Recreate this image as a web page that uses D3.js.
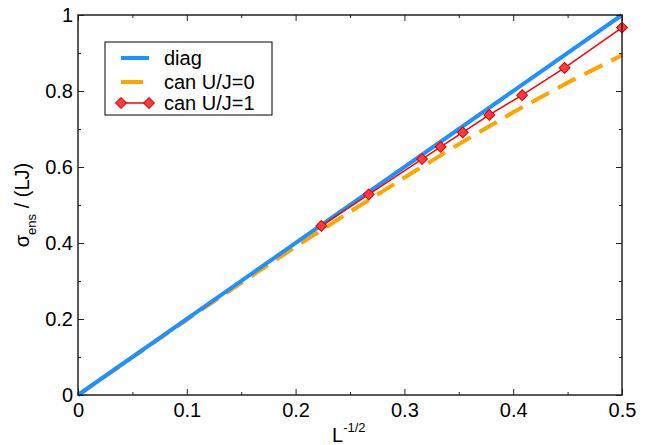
<!DOCTYPE html>
<html>
<head>
<meta charset="utf-8">
<script src="https://cdn.jsdelivr.net/npm/d3@7"></script>
<style>
  body { margin: 0; background: #fff; }
  text { font-family: "Liberation Sans", Arial, sans-serif; }
</style>
</head>
<body>
<svg id="chart" width="650" height="445"></svg>
<script>
/* ======================= DATA ======================= */
const diagX = [0, 0.5];
const diagY = [0, 1.0];

const canU0X = [0, 0.1, 0.15, 0.2, 0.25, 0.3, 0.35, 0.4, 0.45, 0.5];
const canU0Y = [0, 0.198, 0.295, 0.39, 0.482, 0.572, 0.66, 0.744, 0.822, 0.894];

const canU1X = [0.2236, 0.2673, 0.3162, 0.3333, 0.3536, 0.378, 0.4082, 0.4472, 0.5];
const canU1Y = [0.445, 0.528, 0.621, 0.653, 0.691, 0.737, 0.789, 0.861, 0.967];

const xTicks = [0, 0.1, 0.2, 0.3, 0.4, 0.5];
const xMinor = [0.05, 0.15, 0.25, 0.35, 0.45];
const yTicks = [0, 0.2, 0.4, 0.6, 0.8, 1];
const yMinor = [0.1, 0.3, 0.5, 0.7, 0.9];

const legendLabels = ["diag", "can U/J=0", "can U/J=1"];

/* ===================== LAYOUT ======================= */
const margin = { left: 78, right: 28, top: 15, bottom: 50 };
const width = 650, height = 445;
const plotW = width - margin.left - margin.right;
const plotH = height - margin.top - margin.bottom;

const blue = "#1e90ff", orange = "#ffa500", red = "#ff0000";

const svg = d3.select("#chart");
const g = svg.append("g").attr("transform", `translate(${margin.left},${margin.top})`);

const x = d3.scaleLinear().domain([0, 0.5]).range([0, plotW]);
const y = d3.scaleLinear().domain([0, 1]).range([plotH, 0]);

const zip = (xs, ys) => xs.map((v, i) => [v, ys[i]]);
const line = d3.line().x(d => x(d[0])).y(d => y(d[1]));

/* ===================== SERIES ======================= */
g.append("path")
 .datum(zip(canU0X, canU0Y))
 .attr("d", line)
 .attr("fill", "none")
 .attr("stroke", orange)
 .attr("stroke-width", 4)
 .attr("stroke-dasharray", "20,10");

g.append("path")
 .datum(zip(diagX, diagY))
 .attr("d", line)
 .attr("fill", "none")
 .attr("stroke", blue)
 .attr("stroke-width", 4);

g.append("path")
 .datum(zip(canU1X, canU1Y))
 .attr("d", line)
 .attr("fill", "none")
 .attr("stroke", red)
 .attr("stroke-width", 1.5);

const diamond = d3.symbol().type(d3.symbolSquare).size(58);

g.selectAll(".mk")
 .data(zip(canU1X, canU1Y))
 .join("path")
 .attr("class", "mk")
 .attr("d", diamond)
 .attr("transform", d => `translate(${x(d[0])},${y(d[1])}) rotate(45)`)
 .attr("fill", "#ff3b3b")
 .attr("stroke", "#e00000")
 .attr("stroke-width", 1);

/* ====================== AXES ======================== */
const axisColor = "#222";
const fontSize = "20px";

function addTicks(axisGen, transform, values, size, labels) {
    const a = g.append("g")
               .attr("transform", transform)
               .call(axisGen.tickValues(values).tickSize(size).tickSizeOuter(0)
                            .tickFormat(labels ? d3.format("") : ""));
    a.select(".domain").remove();
    a.selectAll(".tick line").attr("stroke", axisColor).attr("stroke-width", 1);
    a.selectAll("text").attr("fill", "#000").style("font-size", fontSize);
    return a;
}

// bottom
const bx = addTicks(d3.axisBottom(x), `translate(0,${plotH})`, xTicks, -6, true);
bx.selectAll("text").attr("y", 8).attr("dy", "0.71em");
addTicks(d3.axisBottom(x), `translate(0,${plotH})`, xMinor, -3, false);
// top
addTicks(d3.axisTop(x), "translate(0,0)", xTicks, -6, false);
addTicks(d3.axisTop(x), "translate(0,0)", xMinor, -3, false);
// left
const ly = addTicks(d3.axisLeft(y), "translate(0,0)", yTicks, -6, true);
ly.selectAll("text").attr("x", -5);
addTicks(d3.axisLeft(y), "translate(0,0)", yMinor, -3, false);
// right
addTicks(d3.axisRight(y), `translate(${plotW},0)`, yTicks, -6, false);
addTicks(d3.axisRight(y), `translate(${plotW},0)`, yMinor, -3, false);

g.append("rect")
 .attr("width", plotW).attr("height", plotH)
 .attr("fill", "none").attr("stroke", axisColor).attr("stroke-width", 1.5);

/* ===================== LABELS ======================= */
const xl = svg.append("text")
              .attr("x", margin.left + plotW / 2 - 18)
              .attr("y", 442)
              .style("font-size", "20px");
xl.append("tspan").text("L");
xl.append("tspan").attr("dy", -10).style("font-size", "13px").text("-1/2");

const yl = svg.append("text")
              .attr("transform", `translate(29,${margin.top + plotH / 2}) rotate(-90)`)
              .attr("text-anchor", "middle")
              .style("font-size", "20px");
yl.append("tspan").text("σ");
yl.append("tspan").attr("dy", 7).style("font-size", "13px").text("ens");
yl.append("tspan").attr("dy", -7).text(" / (LJ)");

/* ===================== LEGEND ======================= */
const legend = svg.append("g").attr("transform", "translate(105,42)");
legend.append("rect")
      .attr("width", 167).attr("height", 73)
      .attr("fill", "#fff").attr("stroke", "#000").attr("stroke-width", 1);

const rowY = [16, 40, 61];
const styles = [
    { stroke: blue, w: 4, dash: null, mk: false },
    { stroke: orange, w: 4, dash: "22,6", mk: false },
    { stroke: red, w: 1.5, dash: null, mk: true }
];

legendLabels.forEach((lab, i) => {
    const s = styles[i];
    const row = legend.append("g").attr("transform", `translate(0,${rowY[i]})`);
    row.append("line")
       .attr("x1", 16).attr("x2", 44)
       .attr("stroke", s.stroke).attr("stroke-width", s.w)
       .attr("stroke-dasharray", s.dash);
    if (s.mk) {
        [16, 44].forEach(px => {
            row.append("path").attr("d", diamond)
               .attr("transform", `translate(${px},0) rotate(45)`)
               .attr("fill", "#ff3b3b").attr("stroke", "#e00000");
        });
    }
    row.append("text")
       .attr("x", 59).attr("dy", "0.35em")
       .style("font-size", "20px")
       .text(lab);
});
</script>
</body>
</html>
